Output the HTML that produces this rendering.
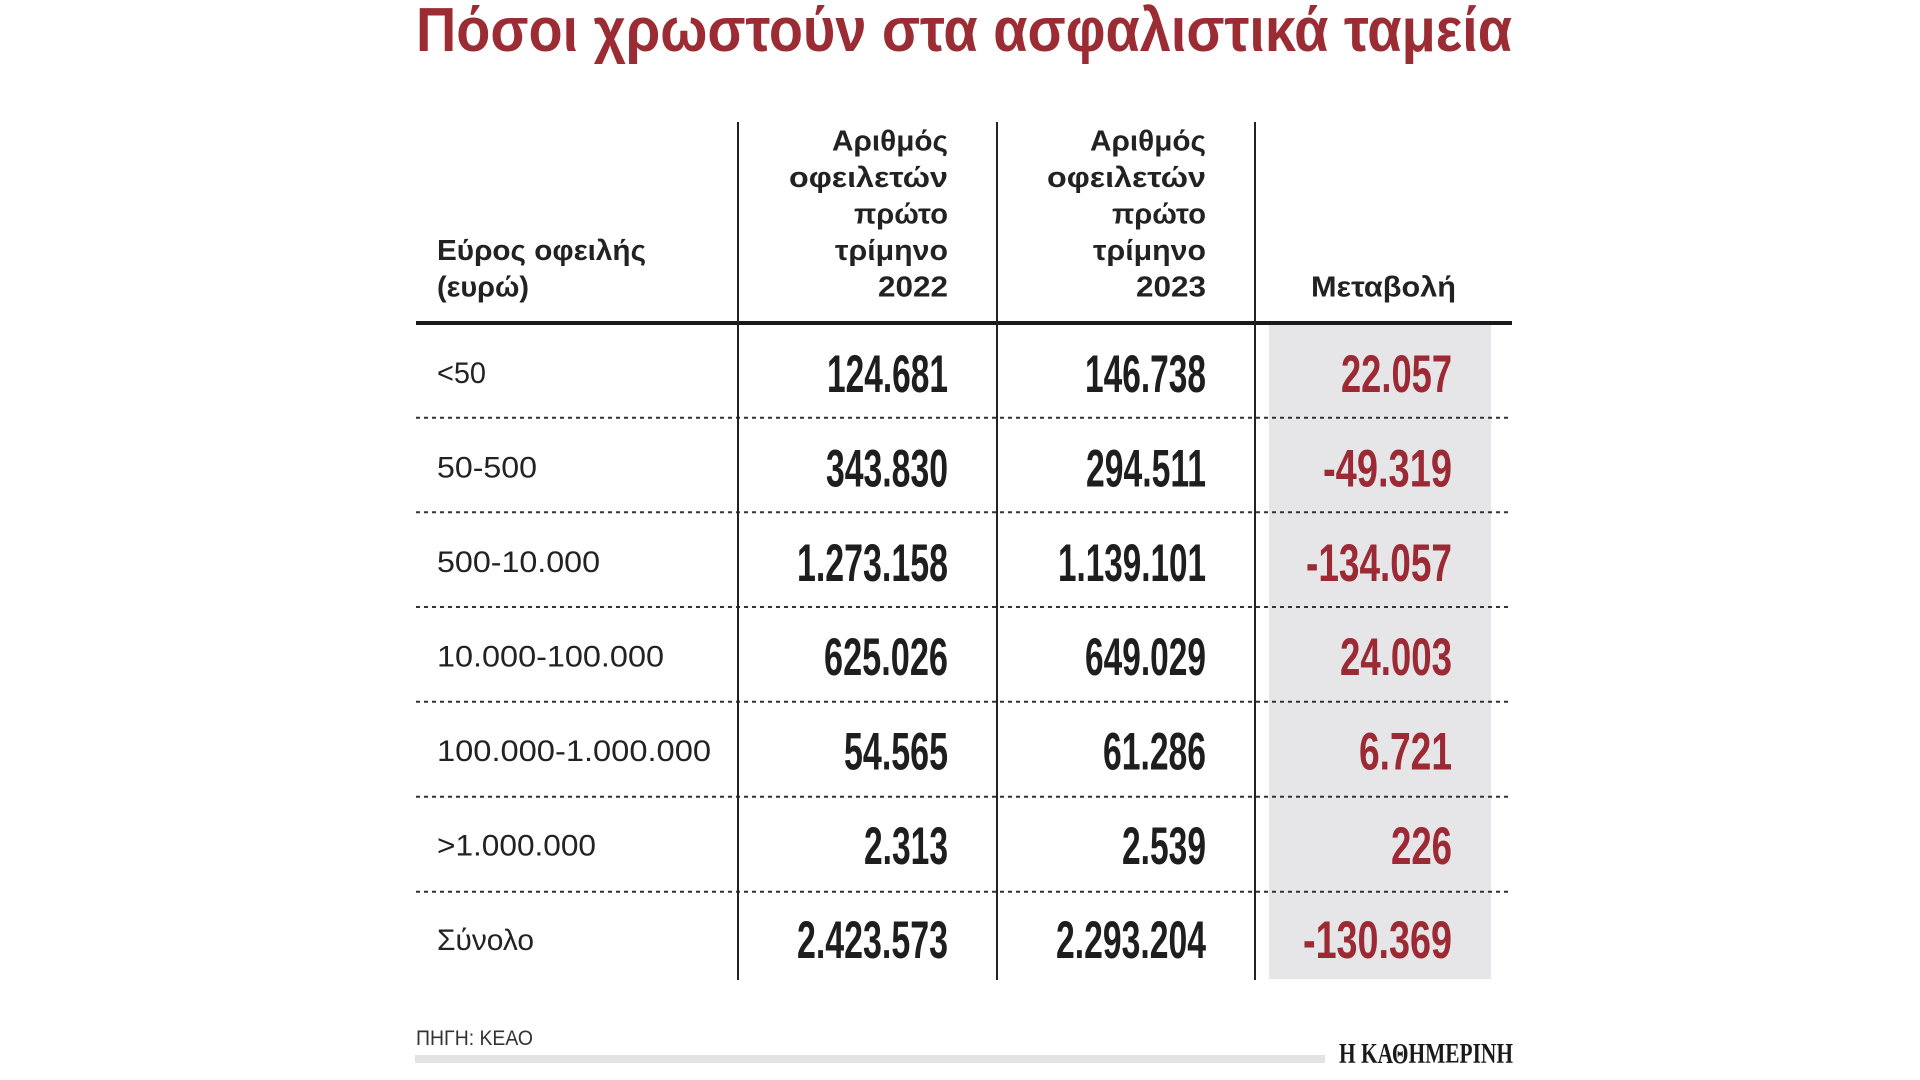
<!DOCTYPE html>
<html>
<head>
<meta charset="utf-8">
<style>
html,body{margin:0;padding:0;background:#fff;}
svg{display:block;}
.t{font-family:"Liberation Sans","Noto Sans CJK JP",sans-serif;}
</style>
</head>
<body>
<svg width="1920" height="1080" viewBox="0 0 1920 1080" xmlns="http://www.w3.org/2000/svg">
<rect width="1920" height="1080" fill="#fff"/>
<!-- Title -->
<text class="t" x="416" y="51" font-size="62" font-weight="bold" fill="#9b2c34" textLength="1096" lengthAdjust="spacingAndGlyphs">Πόσοι χρωστούν στα ασφαλιστικά ταμεία</text>

<!-- gray column -->
<rect x="1269" y="325" width="222" height="654" fill="#e6e6e8"/>

<!-- header -->
<g class="t" font-size="29" font-weight="bold" fill="#222">
<text x="437" y="260.2" textLength="209" lengthAdjust="spacingAndGlyphs">Εύρος οφειλής</text>
<text x="437" y="296.7" textLength="92" lengthAdjust="spacingAndGlyphs">(ευρώ)</text>

<text x="948" y="150.7" text-anchor="end" textLength="116" lengthAdjust="spacingAndGlyphs">Αριθμός</text>
<text x="948" y="187.2" text-anchor="end" textLength="159" lengthAdjust="spacingAndGlyphs">οφειλετών</text>
<text x="948" y="223.7" text-anchor="end" textLength="94" lengthAdjust="spacingAndGlyphs">πρώτο</text>
<text x="948" y="260.2" text-anchor="end" textLength="113" lengthAdjust="spacingAndGlyphs">τρίμηνο</text>
<text x="948" y="296.7" text-anchor="end" textLength="70" lengthAdjust="spacingAndGlyphs">2022</text>

<text x="1206" y="150.7" text-anchor="end" textLength="116" lengthAdjust="spacingAndGlyphs">Αριθμός</text>
<text x="1206" y="187.2" text-anchor="end" textLength="159" lengthAdjust="spacingAndGlyphs">οφειλετών</text>
<text x="1206" y="223.7" text-anchor="end" textLength="94" lengthAdjust="spacingAndGlyphs">πρώτο</text>
<text x="1206" y="260.2" text-anchor="end" textLength="113" lengthAdjust="spacingAndGlyphs">τρίμηνο</text>
<text x="1206" y="296.7" text-anchor="end" textLength="70" lengthAdjust="spacingAndGlyphs">2023</text>

<text x="1311" y="296.7" textLength="145" lengthAdjust="spacingAndGlyphs">Μεταβολή</text>
</g>

<!-- thick rule -->
<rect x="416" y="321" width="1096" height="4" fill="#1a1a1a"/>

<!-- dotted lines -->
<g stroke="#333" stroke-width="2" stroke-dasharray="4 4">
<line x1="416" y1="417.7" x2="1512" y2="417.7"/>
<line x1="416" y1="512.2" x2="1512" y2="512.2"/>
<line x1="416" y1="607" x2="1512" y2="607"/>
<line x1="416" y1="701.7" x2="1512" y2="701.7"/>
<line x1="416" y1="796.7" x2="1512" y2="796.7"/>
<line x1="416" y1="891.7" x2="1512" y2="891.7"/>
</g>

<!-- vertical lines -->
<g fill="#222">
<rect x="737" y="122" width="2" height="858"/>
<rect x="996" y="122" width="2" height="858"/>
<rect x="1254" y="122" width="2" height="858"/>
</g>

<!-- row labels -->
<g class="t" font-size="30" fill="#222">
<text x="437" y="383" textLength="49" lengthAdjust="spacingAndGlyphs">&lt;50</text>
<text x="437" y="477.7" textLength="100" lengthAdjust="spacingAndGlyphs">50-500</text>
<text x="437" y="572" textLength="163" lengthAdjust="spacingAndGlyphs">500-10.000</text>
<text x="437" y="666.5" textLength="227" lengthAdjust="spacingAndGlyphs">10.000-100.000</text>
<text x="437" y="761" textLength="274" lengthAdjust="spacingAndGlyphs">100.000-1.000.000</text>
<text x="437" y="855.5" textLength="159" lengthAdjust="spacingAndGlyphs">&gt;1.000.000</text>
<text x="437" y="950" textLength="97" lengthAdjust="spacingAndGlyphs">Σύνολο</text>
</g>

<!-- numbers -->
<g class="t" font-size="53" font-weight="bold" fill="#1e1e1e" text-anchor="end">
<text x="948" y="392" textLength="121" lengthAdjust="spacingAndGlyphs">124.681</text>
<text x="948" y="486.5" textLength="122" lengthAdjust="spacingAndGlyphs">343.830</text>
<text x="948" y="580.8" textLength="151" lengthAdjust="spacingAndGlyphs">1.273.158</text>
<text x="948" y="675" textLength="124" lengthAdjust="spacingAndGlyphs">625.026</text>
<text x="948" y="769.5" textLength="104" lengthAdjust="spacingAndGlyphs">54.565</text>
<text x="948" y="863.8" textLength="84" lengthAdjust="spacingAndGlyphs">2.313</text>
<text x="948" y="958" textLength="151" lengthAdjust="spacingAndGlyphs">2.423.573</text>

<text x="1206" y="392" textLength="121" lengthAdjust="spacingAndGlyphs">146.738</text>
<text x="1206" y="486.5" textLength="120" lengthAdjust="spacingAndGlyphs">294.511</text>
<text x="1206" y="580.8" textLength="148" lengthAdjust="spacingAndGlyphs">1.139.101</text>
<text x="1206" y="675" textLength="121" lengthAdjust="spacingAndGlyphs">649.029</text>
<text x="1206" y="769.5" textLength="103" lengthAdjust="spacingAndGlyphs">61.286</text>
<text x="1206" y="863.8" textLength="84" lengthAdjust="spacingAndGlyphs">2.539</text>
<text x="1206" y="958" textLength="150" lengthAdjust="spacingAndGlyphs">2.293.204</text>
</g>

<!-- change column -->
<g class="t" font-size="53" font-weight="bold" fill="#9c2a34" text-anchor="end">
<text x="1452" y="392" textLength="111" lengthAdjust="spacingAndGlyphs">22.057</text>
<text x="1452" y="486.5" textLength="129" lengthAdjust="spacingAndGlyphs">-49.319</text>
<text x="1452" y="580.8" textLength="146" lengthAdjust="spacingAndGlyphs">-134.057</text>
<text x="1452" y="675" textLength="112" lengthAdjust="spacingAndGlyphs">24.003</text>
<text x="1452" y="769.5" textLength="93" lengthAdjust="spacingAndGlyphs">6.721</text>
<text x="1452" y="863.8" textLength="61" lengthAdjust="spacingAndGlyphs">226</text>
<text x="1452" y="958" textLength="149" lengthAdjust="spacingAndGlyphs">-130.369</text>
</g>

<!-- footer -->
<text class="t" x="416" y="1045" font-size="21" fill="#333" textLength="117" lengthAdjust="spacingAndGlyphs">ΠΗΓΗ: ΚΕΑΟ</text>
<rect x="415" y="1055" width="910" height="8" fill="#e3e3e3"/>
<text x="1339" y="1063" font-family="'Liberation Serif','Noto Serif CJK SC',serif" font-size="29" font-weight="bold" fill="#1a1a1a" textLength="174" lengthAdjust="spacingAndGlyphs">Η ΚΑΘΗΜΕΡΙΝΗ</text>
</svg>
</body>
</html>
